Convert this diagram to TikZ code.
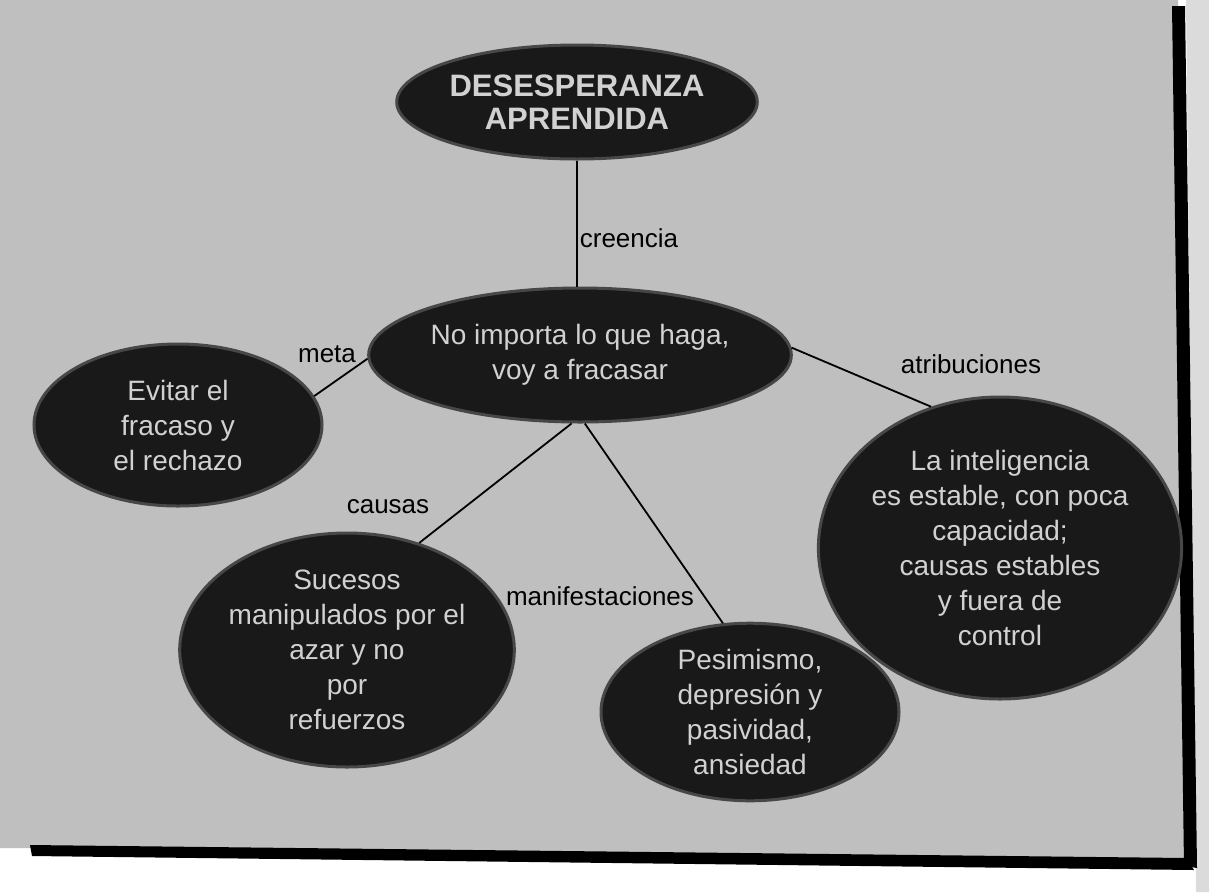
\documentclass[tikz,border=0pt]{standalone}
\usepackage{fontspec}
\setmainfont{Liberation Sans}
\usetikzlibrary{shapes.geometric}
\begin{document}
\begin{tikzpicture}[x=1pt,y=-1pt,
  blob/.style={ellipse, inner sep=0pt, fill=black!90, draw=black!72,
    line width=3pt, text=black!18, align=center,
    font=\fontsize{28}{35}\selectfont},
  link/.style={draw=black, line width=1.8pt},
  tag/.style={inner sep=1pt, font=\fontsize{26}{30}\selectfont}]
  % page and paper sheet
  \useasboundingbox (0,0) rectangle (1209,892);
  \fill[white] (0,0) rectangle (1209,892);
  \fill[black!14] (1186,0) -- (1209,0) -- (1209,892) -- (1196,892) -- cycle;
  \fill[black!25] (0,0) -- (1178,0) -- (1190,860) -- (30,848) -- (0,848) -- cycle;
  % shadow along the right and bottom edges of the sheet
  \fill[black] (1172,6) -- (1185,6) -- (1197,868) -- (1184,866) -- cycle;
  \fill[black] (30,845) -- (1186,858) -- (1194,870) -- (32,856) -- cycle;

  % concept nodes
  \node[blob, minimum width=334pt, minimum height=114pt,
        font=\fontsize{31}{33}\selectfont\bfseries] (top) at (577,102)
        {DESESPERANZA\\APRENDIDA};
  \node[blob, minimum width=358pt, minimum height=134pt] (belief) at (580,355)
        {No importa lo que haga,\\voy a fracasar};
  \node[blob, minimum width=288pt, minimum height=162pt] (goal) at (178,425)
        {Evitar el\\fracaso y\\el rechazo};
  \node[blob, minimum width=332pt, minimum height=302pt] (attrib) at (1000,548)
        {La inteligencia\\es estable, con poca\\capacidad;\\causas estables\\y fuera de\\control};
  \node[blob, minimum width=312pt, minimum height=234pt] (cause) at (347,650)
        {Sucesos\\manipulados por el\\azar y no\\por\\refuerzos};
  \node[blob, minimum width=298pt, minimum height=176pt] (signs) at (750,712)
        {Pesimismo,\\depresión y\\pasividad,\\ansiedad};

  % connectors
  \draw[link] (top.south) -- (top.south |- belief.north);
  \draw[link] (belief.181) -- (goal.12);
  \draw[link] (belief.2) -- (attrib.116);
  \draw[link] (belief.263) -- (cause.56);
  \draw[link] (belief.274) -- (signs.107);

  % connector labels
  \node[tag] (tcre) at (629,238) {creencia};
  \node[tag] (tmeta) at (327,354) {meta};
  \node[tag] (tatr) at (971,364) {atribuciones};
  \node[tag] (tcau) at (388,507) {causas};
  \node[tag] (tman) at (600,596) {manifestaciones};
\end{tikzpicture}
\end{document}
